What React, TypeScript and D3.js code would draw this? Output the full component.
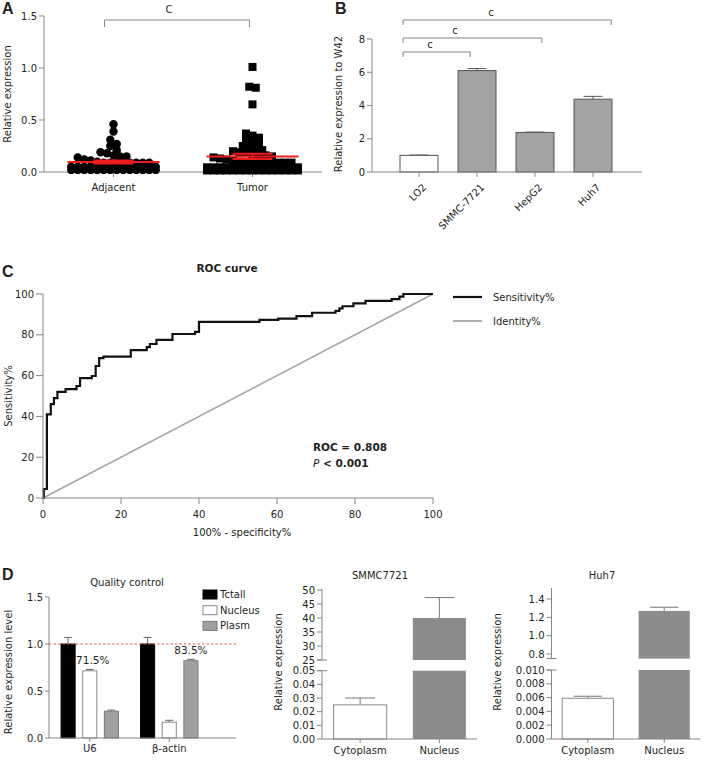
import React from 'react';
import * as d3 from 'd3';

const FONT = "'DejaVu Sans', Verdana, sans-serif";
const AX = '#858585';
const TXT = '#231f20';

// ---------- Panel A ----------
const groupsA = ['Adjacent', 'Tumor'];
const adjacentValues = [
  0.46, 0.39, 0.31, 0.27, 0.25, 0.21, 0.19, 0.18, 0.16, 0.15, 0.15, 0.14, 0.12, 0.11, 0.1,
  0.09, 0.09, 0.09, 0.09, 0.09, 0.09, 0.09, 0.09,
  0.05, 0.05, 0.05, 0.05, 0.05, 0.05, 0.05, 0.05, 0.05, 0.05, 0.05, 0.05, 0.05, 0.05,
  0.02, 0.02, 0.02, 0.02, 0.02, 0.02, 0.02, 0.02, 0.02, 0.02, 0.02, 0.02, 0.02, 0.02,
];
const tumorValues = [
  1.01, 0.82, 0.81, 0.65, 0.37, 0.35, 0.33, 0.31, 0.29, 0.27, 0.25, 0.24, 0.22, 0.21, 0.2,
  0.19, 0.18, 0.17, 0.16, 0.16, 0.15, 0.14, 0.13, 0.12, 0.11, 0.1,
  0.09, 0.09, 0.09, 0.09, 0.09, 0.09, 0.09, 0.09,
  0.045, 0.045, 0.045, 0.045, 0.045, 0.045, 0.045, 0.045, 0.045, 0.045, 0.045, 0.045, 0.045, 0.045, 0.045,
  0.015, 0.015, 0.015, 0.015, 0.015, 0.015, 0.015, 0.015, 0.015, 0.015, 0.015, 0.015, 0.015, 0.015, 0.015,
];
const ticksA = [0, 0.5, 1.0, 1.5];
const sigLabelA = 'C';

// ---------- Panel B ----------
const cellLines = ['LO2', 'SMMC-7721', 'HepG2', 'Huh7'];
const cellMeans = [1.0, 6.1, 2.38, 4.38];
const cellErrs = [0.02, 0.12, 0.02, 0.17];
const cellFills = ['#ffffff', '#a3a3a3', '#a3a3a3', '#a3a3a3'];
const ticksB = [0, 2, 4, 6, 8];
const bracketTargets = ['Huh7', 'HepG2', 'SMMC-7721'];
const bracketLabels = ['c', 'c', 'c'];

// ---------- Panel C ----------
const rocFpr = [0, 0.2, 1.0, 2.0, 2.8, 3.7, 5.8, 8.6, 9.5, 12.5, 13.5, 14.4, 15.5, 22.5, 26.6, 27.4, 29.1, 33.2, 39, 40, 55.5, 60.3, 65, 69, 75, 76, 76.8, 79.6, 82.7, 89.4, 91.4, 92.4, 100];
const rocTpr = [0, 4.4, 41, 46, 49, 52, 53.4, 54.9, 58.8, 59.8, 64.7, 68.6, 69.3, 72.5, 74, 75.5, 77.5, 80.4, 81.4, 86.3, 87.3, 87.9, 89.2, 90.8, 91.7, 93, 94, 95.4, 96.6, 97.5, 98.7, 100, 100];
const ticksC = [0, 20, 40, 60, 80, 100];
const rocArea = '0.808';
const rocP = '0.001';
const legendC = ['Sensitivity%', 'Identity%'];

// ---------- Panel D ----------
const qcGenes = ['U6', 'β-actin'];
const qcSeries = ['Tctall', 'Nucleus', 'Plasm'];
const qcU6 = [1.0, 0.715, 0.285];
const qcU6Err = [0.07, 0.015, 0.012];
const qcActin = [1.0, 0.168, 0.822];
const qcActinErr = [0.07, 0.02, 0.015];
const qcPct = ['71.5%', '83.5%'];
const qcFills = ['#000000', '#ffffff', '#a0a0a0'];
const qcStrokes = ['#000000', '#8a8a8a', '#7a7a7a'];
const ticksQ = [0, 0.5, 1.0, 1.5];

const fracCats = ['Cytoplasm', 'Nucleus'];
const smmcValues = [0.025, 40];
const smmcErrs = [0.005, 7.3];
const smmcLowTicks = [0, 0.01, 0.02, 0.03, 0.04, 0.05];
const smmcHighTicks = [25, 30, 35, 40, 45, 50];
const huhValues = [0.0059, 1.27];
const huhErrs = [0.0003, 0.04];
const huhLowTicks = [0, 0.002, 0.004, 0.006, 0.008, 0.01];
const huhHighTicks = [0.8, 1.0, 1.2, 1.4];
const fracFills = ['#ffffff', '#8c8c8c'];

const txt = (size = 10, extra: any = {}) => ({ fontFamily: FONT, fontSize: size, fill: TXT, ...extra });

function YAxis({ x, scale, ticks, fmt, y0, y1, tick = 5 }: any) {
  return (
    <g>
      <line x1={x} x2={x} y1={y0} y2={y1} stroke={AX} />
      {ticks.map((t: number) => (
        <g key={t}>
          <line x1={x - tick} x2={x} y1={scale(t)} y2={scale(t)} stroke={AX} />
          <text x={x - tick - 2} y={scale(t)} dy="0.35em" textAnchor="end" style={txt(10)}>{fmt(t)}</text>
        </g>
      ))}
    </g>
  );
}

function swarm(values: number[], y: any, cx: number, rowPx: number, spacing: number) {
  const pts = values.map((v) => ({ v, py: y(v) }));
  const rows = d3.group(pts, (d) => Math.round((y(0) - d.py) / rowPx));
  const out: { x: number; y: number }[] = [];
  for (const [, r] of rows) {
    const n = r.length;
    r.forEach((p, i) => out.push({ x: cx + (i - (n - 1) / 2) * spacing, y: p.py }));
  }
  return out;
}

function BrokenPanel({ axisX, xRange, cats, values, errs, lowDomain, lowRange, highDomain, highRange, highAxisTop, lowTicks, highTicks, lowFmt, highFmt, title, titleX, labelX }: any) {
  const x = d3.scaleBand().domain(cats).range(xRange).paddingInner(0.33).paddingOuter(0.14);
  const yLow = d3.scaleLinear().domain(lowDomain).range(lowRange);
  const yHigh = d3.scaleLinear().domain(highDomain).range(highRange);
  const bw = x.bandwidth();
  const lowMax = lowDomain[1];
  const highMin = highDomain[0];
  const base = yLow(0);
  return (
    <g>
      <text x={titleX} y={579} textAnchor="middle" style={txt(10)}>{title}</text>
      <text transform={`translate(${labelX},662) rotate(-90)`} textAnchor="middle" style={txt(10)}>Relative expression</text>
      {cats.map((c: string, i: number) => {
        const v = values[i];
        const x0 = x(c)!;
        const cx = x0 + bw / 2;
        const big = v > lowMax;
        const yTop = big ? yHigh(v) : yLow(v);
        const yErr = big ? yHigh(v + errs[i]) : yLow(v + errs[i]);
        const stroke = fracFills[i] === '#ffffff' ? '#8a8a8a' : '#7a7a7a';
        return (
          <g key={c}>
            <line x1={cx} x2={cx} y1={yTop} y2={yErr} stroke="#777" />
            <line x1={cx - bw * 0.28} x2={cx + bw * 0.28} y1={yErr} y2={yErr} stroke="#777" />
            {big ? (
              <>
                <rect x={x0} y={yLow(lowMax)} width={bw} height={base - yLow(lowMax)} fill={fracFills[i]} />
                <rect x={x0} y={yTop} width={bw} height={yHigh(highMin) - yTop} fill={fracFills[i]} />
              </>
            ) : (
              <rect x={x0} y={yTop} width={bw} height={base - yTop} fill={fracFills[i]} stroke={stroke} />
            )}
            <line x1={cx} x2={cx} y1={base} y2={base + 4} stroke={AX} />
            <text x={cx} y={754} textAnchor="middle" style={txt(10)}>{c}</text>
          </g>
        );
      })}
      <YAxis x={axisX} scale={yLow} ticks={lowTicks} fmt={lowFmt} y0={yLow(lowMax)} y1={base} />
      <YAxis x={axisX} scale={yHigh} ticks={highTicks} fmt={highFmt} y0={highAxisTop} y1={yHigh(highMin)} />
      <line x1={axisX - 5} x2={axisX + 5} y1={yHigh(highMin)} y2={yHigh(highMin)} stroke={AX} />
      <line x1={axisX - 5} x2={axisX + 5} y1={yLow(lowMax)} y2={yLow(lowMax)} stroke={AX} />
      <line x1={axisX} x2={xRange[1]} y1={base} y2={base} stroke={AX} />
    </g>
  );
}

export default function App() {
  // ----- Panel A -----
  const yA = d3.scaleLinear().domain([0, 1.5]).range([172, 16]);
  const xA = d3.scaleBand().domain(groupsA).range([44, 322]);
  const cA = (g: string) => xA(g)! + xA.bandwidth() / 2;
  const adjPts = swarm(adjacentValues, yA, cA('Adjacent'), 6, 6.5);
  const tumPts = swarm(tumorValues, yA, cA('Tumor'), 6, 6.5);
  const statsA = [adjacentValues, tumorValues].map((vals) => {
    const m = d3.mean(vals)!;
    const sem = d3.deviation(vals)! / Math.sqrt(vals.length);
    return { m, sem };
  });

  // ----- Panel B -----
  const yB = d3.scaleLinear().domain([0, 8]).range([172, 39]);
  const xB = d3.scaleBand().domain(cellLines).range([390, 622]).paddingInner(0.345).paddingOuter(0.1725);
  const bwB = xB.bandwidth();
  const bracketY = [20, 38, 52];
  const bracketEnd = [0.98, 0.68, 0.32];
  const bracketLabelX = [491, 455, 430];

  // ----- Panel C -----
  const xC = d3.scaleLinear().domain([0, 100]).range([43, 433]);
  const yC = d3.scaleLinear().domain([0, 100]).range([498, 294]);
  const rocLine = d3.line<number>().x((d) => xC(rocFpr[d])).y((d) => yC(rocTpr[d])).curve(d3.curveStepAfter);
  const rocPath = rocLine(rocFpr.map((_, i) => i))!;

  // ----- Panel D left -----
  const yQ = d3.scaleLinear().domain([0, 1.5]).range([738, 597]);
  const xQ = d3.scaleBand().domain(qcGenes).range([50, 209]);
  const qcVals = [qcU6, qcActin];
  const qcErrs = [qcU6Err, qcActinErr];
  const pctSeries = [1, 2];
  const pctDx = [3, 0];

  return (
    <svg width={706} height={762} style={{ position: 'absolute', left: 0, top: 0, background: '#fff' }}>
      <rect width={706} height={762} fill="#fff" />
      {/* ================= Panel A ================= */}
      <text x={2} y={14} style={txt(16, { fontWeight: 'bold', fontFamily: "'Liberation Sans', Arial, sans-serif" })}>A</text>
      <text transform="translate(11,94) rotate(-90)" textAnchor="middle" style={txt(10)}>Relative expression</text>
      <YAxis x={44} scale={yA} ticks={ticksA} fmt={d3.format('.1f')} y0={yA(1.5)} y1={yA(0)} />
      <line x1={44} x2={322} y1={yA(0)} y2={yA(0)} stroke={AX} />
      {groupsA.map((g) => (
        <g key={g}>
          <line x1={cA(g)} x2={cA(g)} y1={172} y2={177} stroke={AX} />
          <text x={cA(g)} y={191} textAnchor="middle" style={txt(10)}>{g}</text>
        </g>
      ))}
      {adjPts.map((p, i) => <circle key={'a' + i} cx={p.x} cy={p.y} r={4.2} fill="#000" />)}
      {tumPts.map((p, i) => <rect key={'t' + i} x={p.x - 4} y={p.y - 4} width={8} height={8} fill="#000" />)}
      {groupsA.map((g, i) => {
        const cx = cA(g);
        const { m, sem } = statsA[i];
        return (
          <g key={'m' + g} stroke="#ee1c1c">
            <line x1={cx - 46} x2={cx + 46} y1={yA(m)} y2={yA(m)} strokeWidth={2} />
            <line x1={cx - 20} x2={cx + 20} y1={yA(m + sem)} y2={yA(m + sem)} strokeWidth={2} />
            <line x1={cx - 20} x2={cx + 20} y1={yA(m - sem)} y2={yA(m - sem)} strokeWidth={2} />
            <line x1={cx} x2={cx} y1={yA(m + sem)} y2={yA(m - sem)} strokeWidth={2} />
          </g>
        );
      })}
      <path d={`M${cA('Adjacent') - 9},27V20H${cA('Tumor') - 3}V27`} fill="none" stroke={AX} />
      <text x={169} y={13} textAnchor="middle" style={txt(10)}>{sigLabelA}</text>

      {/* ================= Panel B ================= */}
      <text x={335} y={14} style={txt(16, { fontWeight: 'bold', fontFamily: "'Liberation Sans', Arial, sans-serif" })}>B</text>
      <text transform="translate(342,104) rotate(-90)" textAnchor="middle" style={txt(10)}>Relative expression to W42</text>
      {cellLines.map((c, i) => {
        const x0 = xB(c)!;
        const cx = x0 + bwB / 2;
        const yt = yB(cellMeans[i]);
        const ye = yB(cellMeans[i] + cellErrs[i]);
        return (
          <g key={c}>
            <line x1={cx} x2={cx} y1={yt} y2={ye} stroke="#555" />
            <line x1={cx - bwB * 0.25} x2={cx + bwB * 0.25} y1={ye} y2={ye} stroke="#555" />
            <rect x={x0} y={yt} width={bwB} height={yB(0) - yt} fill={cellFills[i]} stroke="#555" />
            <line x1={cx} x2={cx} y1={172} y2={177} stroke={AX} />
            <text transform={`translate(${cx + 3},${183}) rotate(-45)`} dy="0.7em" textAnchor="end" style={txt(10)}>{c}</text>
          </g>
        );
      })}
      <YAxis x={372} scale={yB} ticks={ticksB} fmt={d3.format('d')} y0={yB(8)} y1={yB(0)} />
      <line x1={372} x2={642} y1={yB(0)} y2={yB(0)} stroke={AX} />
      {bracketTargets.map((t, i) => {
        const xl = xB('LO2')! + bwB * 0.08;
        const xr = xB(t)! + bwB * bracketEnd[i];
        const y = bracketY[i];
        return (
          <g key={'br' + t}>
            <path d={`M${xl},${y + 5}V${y}H${xr}V${y + 5}`} fill="none" stroke={AX} />
            <text x={bracketLabelX[i]} y={y - 4} textAnchor="middle" style={txt(10)}>{bracketLabels[i]}</text>
          </g>
        );
      })}

      {/* ================= Panel C ================= */}
      <text x={2} y={277} style={txt(16, { fontWeight: 'bold', fontFamily: "'Liberation Sans', Arial, sans-serif" })}>C</text>
      <text x={227} y={272} textAnchor="middle" style={txt(10.5, { fontWeight: 'bold' })}>ROC curve</text>
      <text transform="translate(12,396) rotate(-90)" textAnchor="middle" style={txt(10)}>Sensitivity%</text>
      <line x1={xC(0)} y1={yC(0)} x2={xC(100)} y2={yC(100)} stroke="#a6a6a6" strokeWidth={1.6} />
      <path d={rocPath} fill="none" stroke="#111" strokeWidth={2.2} />
      <YAxis x={43} scale={yC} ticks={ticksC} fmt={d3.format('d')} y0={yC(100)} y1={yC(0)} tick={7} />
      <line x1={43} x2={433} y1={498} y2={498} stroke={AX} />
      {ticksC.map((t) => (
        <g key={'xc' + t}>
          <line x1={xC(t)} x2={xC(t)} y1={498} y2={504} stroke={AX} />
          <text x={xC(t)} y={518} textAnchor="middle" style={txt(10)}>{t}</text>
        </g>
      ))}
      <text x={242} y={536} textAnchor="middle" style={txt(10)}>100% - specificity%</text>
      <text x={313} y={451} style={txt(10.5, { fontWeight: 'bold' })}>ROC = {rocArea}</text>
      <text x={313} y={467} style={txt(10.5, { fontWeight: 'bold' })}>
        <tspan fontStyle="italic" fontWeight="normal">P</tspan> &lt; {rocP}
      </text>
      {legendC.map((l, i) => (
        <g key={l}>
          <line x1={453} x2={482} y1={297 + i * 24} y2={297 + i * 24} stroke={i === 0 ? '#111' : '#a6a6a6'} strokeWidth={i === 0 ? 2.2 : 1.8} />
          <text x={493} y={297 + i * 24} dy="0.35em" style={txt(10)}>{l}</text>
        </g>
      ))}

      {/* ================= Panel D left ================= */}
      <text x={2} y={580} style={txt(16, { fontWeight: 'bold', fontFamily: "'Liberation Sans', Arial, sans-serif" })}>D</text>
      <text x={127} y={586} textAnchor="middle" style={txt(10)}>Quality control</text>
      <text transform="translate(12,672) rotate(-90)" textAnchor="middle" style={txt(10)}>Relative expression level</text>
      {qcGenes.map((g, gi) => {
        const c = xQ(g)! + xQ.bandwidth() / 2;
        const sub = d3.scaleBand().domain(qcSeries).range([c - 32.5, c + 32.5]).paddingInner(0.35).paddingOuter(0.175);
        return (
          <g key={g}>
            {qcSeries.map((s, si) => {
              const v = qcVals[gi][si];
              const e = qcErrs[gi][si];
              const x0 = sub(s)!;
              const w = sub.bandwidth();
              const cx = x0 + w / 2;
              return (
                <g key={s}>
                  <line x1={cx} x2={cx} y1={yQ(v)} y2={yQ(v + e)} stroke="#666" />
                  <line x1={cx - 4} x2={cx + 4} y1={yQ(v + e)} y2={yQ(v + e)} stroke="#666" />
                  <rect x={x0} y={yQ(v)} width={w} height={yQ(0) - yQ(v)} fill={qcFills[si]} stroke={qcStrokes[si]} />
                </g>
              );
            })}
            <line x1={c} x2={c} y1={738} y2={742} stroke={AX} />
            <text x={c} y={752} textAnchor="middle" style={txt(10)}>{g}</text>
            {(() => {
              const s = qcSeries[pctSeries[gi]];
              const cx = sub(s)! + sub.bandwidth() / 2 + pctDx[gi];
              const v = qcVals[gi][pctSeries[gi]] + qcErrs[gi][pctSeries[gi]];
              return <text x={cx} y={yQ(v) - 5} textAnchor="middle" style={txt(10.5)}>{qcPct[gi]}</text>;
            })()}
          </g>
        );
      })}
      <line x1={49} x2={236} y1={yQ(1)} y2={yQ(1)} stroke="#e06060" strokeDasharray="2.5,2" />
      <YAxis x={49} scale={yQ} ticks={ticksQ} fmt={d3.format('.1f')} y0={yQ(1.5)} y1={yQ(0)} tick={4} />
      <line x1={49} x2={236} y1={738} y2={738} stroke={AX} />
      {qcSeries.map((s, i) => (
        <g key={'lg' + s}>
          <rect x={203} y={590 + i * 15.7} width={14} height={9} fill={qcFills[i]} stroke={qcStrokes[i]} />
          <text x={220} y={594.5 + i * 15.7} dy="0.35em" style={txt(10)}>{s}</text>
        </g>
      ))}

      {/* ================= Panel D middle ================= */}
      <BrokenPanel
        axisX={322}
        xRange={[322.5, 477]}
        cats={fracCats}
        values={smmcValues}
        errs={smmcErrs}
        lowDomain={[0, 0.05]}
        lowRange={[739, 670.7]}
        highDomain={[25, 50]}
        highRange={[660, 590]}
        highAxisTop={589}
        lowTicks={smmcLowTicks}
        highTicks={smmcHighTicks}
        lowFmt={d3.format('.2f')}
        highFmt={d3.format('d')}
        title="SMMC7721"
        titleX={380}
        labelX={282}
      />
      {/* ================= Panel D right ================= */}
      <BrokenPanel
        axisX={551.5}
        xRange={[551.5, 700.5]}
        cats={fracCats}
        values={huhValues}
        errs={huhErrs}
        lowDomain={[0, 0.01]}
        lowRange={[739, 670]}
        highDomain={[0.75, 1.4]}
        highRange={[658.6, 599]}
        highAxisTop={588}
        lowTicks={huhLowTicks}
        highTicks={huhHighTicks}
        lowFmt={d3.format('.3f')}
        highFmt={d3.format('.1f')}
        title="Huh7"
        titleX={602}
        labelX={501}
      />
    </svg>
  );
}
